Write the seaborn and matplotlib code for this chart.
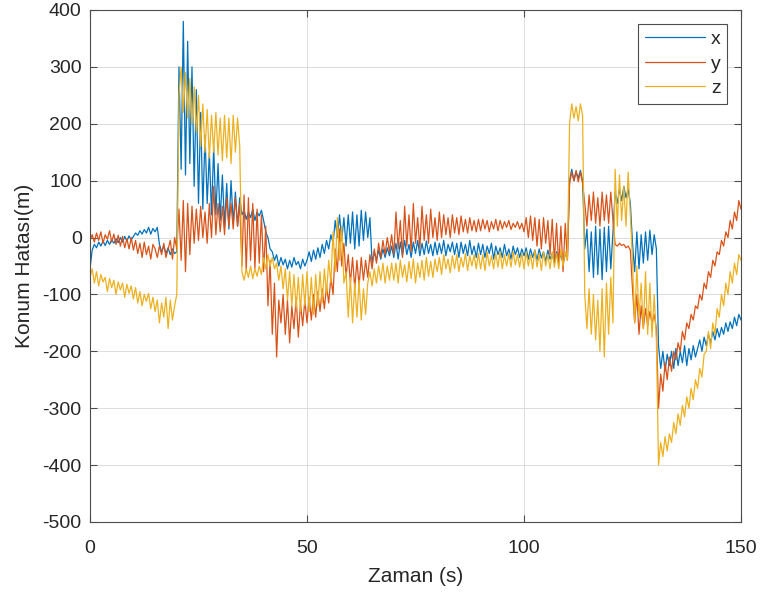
import numpy as np
import pandas as pd
import matplotlib
matplotlib.use("Agg")
import matplotlib.pyplot as plt
import seaborn as sns

# time samples (s), 0.5 s spacing
time_s = np.arange(301) * 0.5

x_err = [
    -55, -22, -12, -18, -8, -15, -6, -14, -5, -12, -4, -10, -2, -9, 0, -8, 2, -6, 3, -4,
    2, 8, 4, 12, 6, 14, 8, 18, 6, 16, 10, 18, -12, -25, -15, -28, -18, -30, -20, -28,
    -25, 300, 120, 380, 110, 345, 130, 300, 90, 260, 60, 220, 50, 180, 60, 150, 40, 160, 40, 130,
    30, 110, 20, 95, 15, 100, 25, 80, 20, 70, 40, 48, 32, 45, 35, 50, 30, 45, 38, 48,
    30, 10, 0, -20, -25, -40, -30, -50, -35, -48, -38, -55, -40, -52, -35, -48, -42, -55, -38, -50,
    -40, -25, -42, -22, -38, -18, -35, -12, -28, -5, -20, 5, -10, 30, 0, 40, -5, 35, -15, 40,
    -10, 45, -20, 40, -15, 48, -5, 45, 0, 35, -45, -25, -40, -22, -38, -20, -35, -18, -32, -15,
    -35, -10, -38, -8, -32, -5, -30, -12, -35, -8, -28, -5, -32, -10, -30, -6, -28, -12, -32, -8,
    -30, -10, -28, -5, -32, -12, -25, -8, -30, -10, -35, -8, -28, -12, -32, -5, -30, -15, -35, -10,
    -30, -12, -35, -15, -28, -10, -38, -15, -30, -18, -35, -12, -32, -20, -38, -15, -30, -18, -35, -20,
    -32, -18, -38, -20, -35, -22, -40, -20, -36, -25, -42, -22, -38, -28, -45, -25, -40, -30, -45, -30,
    -35, 100, 120, 100, 115, 105, 118, 100, -20, 15, -60, 10, -70, 20, -65, 15, -74, 18, -60, 20,
    -55, 10, 80, 60, 85, 65, 90, 70, 85, 60, -10, -60, 10, -55, 5, -45, 10, -40, 13, -30,
    5, -20, -190, -230, -200, -235, -205, -225, -200, -230, -195, -225, -200, -220, -190, -225, -195, -215, -190, -210,
    -195, -180, -200, -175, -190, -170, -185, -165, -180, -160, -175, -158, -170, -150, -165, -148, -160, -140, -155, -135,
    -145,
]

y_err = [
    -5, 5, -8, 8, -5, 10, -10, 5, -3, 12, -8, 6, -12, 4, -15, 2, -18, -2, -20, 0,
    -22, -5, -28, -10, -35, -8, -30, -15, -38, -12, -20, -35, -15, -30, -10, -35, -20, -5, -38, 0,
    -20, 50, -40, 65, -60, 60, -30, 55, -10, 50, -5, 55, 0, 45, -10, 60, 0, 90, 5, 60,
    10, 55, 5, 70, 20, 60, 15, 70, 20, 60, -50, 75, -60, 70, -40, 60, -55, 50, -45, 40,
    -60, 20, -120, -40, -170, -80, -210, -110, -150, -100, -170, -110, -185, -120, -160, -105, -175, -115, -155, -110,
    -150, -105, -145, -100, -140, -95, -130, -90, -125, -85, -115, -70, -100, -20, -60, 15, -50, -10, -70, -30,
    -80, -35, -90, -40, -85, -35, -75, -40, -70, -30, -55, -20, -45, -10, -35, -5, -30, 0, -25, 5,
    -30, 45, -20, 30, -35, 55, -15, 40, -25, 60, -10, 35, -20, 55, -5, 40, -10, 50, 0, 35,
    -5, 45, 0, 40, 5, 35, 0, 40, 8, 35, 5, 38, 10, 32, 8, 35, 12, 30, 10, 32,
    12, 32, 15, 30, 10, 28, 15, 32, 12, 30, 15, 28, 18, 30, 14, 25, 18, 28, 15, 25,
    10, 35, 0, 38, -5, 35, -15, 32, -20, 35, -10, 30, -30, 32, -40, 25, -50, 20, -60, 25,
    -40, 95, 115, 100, 118, 98, 115, 95, 60, 20, 75, 30, 80, 25, 70, 20, 80, 30, 75, 25,
    80, 30, -12, -15, -10, -14, -12, -18, -15, -22, -90, -150, -100, -170, -120, -160, -125, -155, -130, -150,
    -135, -160, -300, -240, -270, -220, -250, -210, -235, -200, -215, -185, -200, -165, -180, -150, -160, -135, -145, -120,
    -125, -100, -110, -80, -90, -60, -70, -40, -50, -25, -30, -5, -15, 10, 0, 30, 15, 45, 30, 65,
    50,
]

z_err = [
    -70, -55, -80, -60, -85, -65, -78, -70, -95, -72, -88, -75, -100, -78, -92, -80, -105, -82, -98, -85,
    -108, -88, -115, -95, -120, -100, -112, -98, -125, -105, -130, -110, -150, -115, -140, -105, -160, -110, -145, -120,
    -100, 250, 300, 220, 290, 210, 280, 200, 265, 185, 250, 160, 235, 150, 225, 140, 215, 150, 220, 145,
    210, 135, 215, 140, 210, 130, 215, 150, 210, 160, -60, -75, -55, -70, -50, -72, -55, -68, -50, -65,
    -35, -55, -30, -50, -35, -55, -45, -75, -50, -90, -55, -110, -60, -120, -65, -125, -70, -130, -65, -120,
    -60, -130, -70, -135, -65, -120, -60, -115, -55, -100, -40, -80, 10, -60, 35, -40, 20, -80, -60, -140,
    -70, -150, -80, -140, -75, -145, -90, -135, -80, -60, -85, -55, -80, -50, -75, -45, -80, -50, -75, -45,
    -75, -45, -80, -40, -70, -48, -78, -42, -72, -38, -80, -45, -70, -40, -75, -35, -68, -42, -70, -38,
    -60, -35, -65, -30, -55, -38, -62, -32, -55, -30, -60, -35, -52, -28, -58, -32, -50, -30, -55, -28,
    -55, -30, -58, -25, -50, -32, -55, -28, -52, -25, -55, -30, -50, -28, -52, -25, -48, -30, -52, -28,
    -55, -25, -50, -30, -55, -22, -52, -28, -58, -25, -50, -30, -55, -25, -52, -28, -55, -20, -50, -25,
    -40, 200, 235, 210, 230, 205, 235, 215, -100, -160, -90, -170, -100, -180, -110, -200, -90, -210, -80, -170,
    -70, -150, 120, 20, 110, 30, 90, 20, 115, 40, -40, -150, -50, -140, -80, -160, -60, -170, -80, -175,
    -100, -180, -400, -360, -385, -350, -375, -345, -360, -325, -345, -310, -330, -295, -315, -280, -300, -265, -285, -250,
    -265, -230, -245, -205, -200, -165, -195, -150, -170, -125, -140, -100, -120, -80, -100, -60, -80, -45, -65, -30,
    -40,
]

series_names = ["x", "y", "z"]
series_colors = ["#0072BD", "#D95319", "#EDB120"]
x_ticks = [0, 50, 100, 150]
y_ticks = list(range(-500, 401, 100))

df = pd.DataFrame({
    "t": np.concatenate([time_s] * 3),
    "err": np.concatenate([x_err, y_err, z_err]),
    "series": np.repeat(series_names, len(time_s)),
})

sns.set_theme(style="white")
plt.rcParams["font.family"] = ["Liberation Sans", "DejaVu Sans"]
plt.rcParams["axes.unicode_minus"] = False

fig = plt.figure(figsize=(7.63, 5.95), dpi=100)
ax = fig.add_axes([90 / 763, 1 - 522 / 595, (741 - 90) / 763, (522 - 10) / 595])

sns.lineplot(data=df, x="t", y="err", hue="series", palette=dict(zip(series_names, series_colors)),
             estimator=None, linewidth=0.9, ax=ax, legend=False, sort=False)

ax.set_xlim(0, 150)
ax.set_ylim(-500, 400)
ax.set_xticks(x_ticks)
ax.set_yticks(y_ticks)
ax.grid(True, color="#DCDCDC", linewidth=0.7)
ax.set_axisbelow(True)
for s in ax.spines.values():
    s.set_color("#4D4D4D")
    s.set_linewidth(0.8)
ax.tick_params(axis="both", which="both", direction="in", top=True, right=True,
               length=5, width=0.8, color="#4D4D4D", labelsize=14, labelcolor="#262626",
               left=True, bottom=True)
ax.tick_params(axis="x", pad=13)
ax.tick_params(axis="y", pad=6)
ax.set_xlabel("Zaman (s)", fontsize=15, color="#262626", labelpad=7)
ax.set_ylabel("Konum Hatası(m)", fontsize=15, color="#262626", labelpad=6)

lines = ax.get_lines()[:3]
leg = ax.legend(lines, series_names, loc="upper right", fontsize=14, frameon=True,
                fancybox=False, framealpha=1, edgecolor="#4D4D4D", handlelength=3.1,
                borderaxespad=0.72, labelspacing=0.36, handletextpad=0.3, borderpad=0.33)
leg.get_frame().set_linewidth(0.8)
for h in leg.get_lines():
    h.set_linewidth(0.9)

fig.savefig("out.png", dpi=100)
